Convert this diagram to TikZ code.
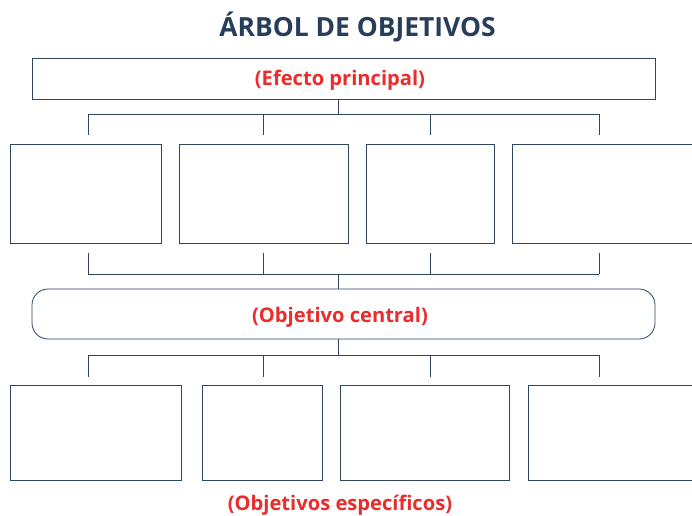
\documentclass[tikz,border=0pt]{standalone}
\usepackage{fontspec}
\setmainfont{Open Sans}
\definecolor{navy}{HTML}{263E5A}
\definecolor{linec}{HTML}{2F4560}
\definecolor{redt}{HTML}{EC2B2B}
\begin{document}
\begin{tikzpicture}[x=0.75pt,y=-0.75pt,
  boxs/.style={draw=linec,line width=0.6pt,fill=white,inner sep=0pt},
  redlbl/.style={text=redt,font=\bfseries\fontsize{15.1}{18}\selectfont},
  wire/.style={draw=linec,line width=0.6pt}]
\useasboundingbox (0,0) rectangle (692,515);
\node[font=\bfseries\fontsize{19.8}{23}\selectfont,text=navy] (title) at (357.5,27) {ÁRBOL DE OBJETIVOS};
% top box
\node[boxs,minimum width=467.25pt,minimum height=30.75pt] (top) at (343.5,78.5) {};
\node[redlbl] (eff) at (340,80) {(Efecto principal)};
% row 2
\node[boxs,minimum width=113.25pt,minimum height=74.25pt] (b1) at (85.5,193.5) {};
\node[boxs,minimum width=126.75pt,minimum height=74.25pt] (b2) at (263.5,193.5) {};
\node[boxs,minimum width=96pt,minimum height=74.25pt] (b3) at (430,193.5) {};
\node[boxs,minimum width=141pt,minimum height=74.25pt] (b4) at (606,193.5) {};
% central
\node[boxs,rounded corners=12pt,minimum width=467.25pt,minimum height=37.5pt] (cen) at (343.5,314) {};
\node[redlbl] (obj) at (340,317.5) {(Objetivo central)};
% row 3
\node[boxs,minimum width=128.25pt,minimum height=71.25pt] (c1) at (95.5,432.5) {};
\node[boxs,minimum width=90pt,minimum height=71.25pt] (c2) at (262,432.5) {};
\node[boxs,minimum width=126.75pt,minimum height=71.25pt] (c3) at (424.5,432.5) {};
\node[boxs,minimum width=132pt,minimum height=71.25pt] (c4) at (616,432.5) {};
\node[redlbl] (esp) at (340,505.5) {(Objetivos específicos)};
% connectors top
\coordinate (t0) at (338,114);
\coordinate (t1) at (88,114); \coordinate (t2) at (263,114);
\coordinate (t3) at (430,114); \coordinate (t4) at (599,114);
\draw[wire] (top.south -| t0) -- (t0);
\draw[wire] (t1) -- (t4);
\foreach \i in {1,2,3,4} {\draw[wire] (t\i) -- ++(0,21);}
% connectors middle
\coordinate (m0) at (338,274);
\coordinate (m1) at (88,274); \coordinate (m2) at (263,274);
\coordinate (m3) at (430,274); \coordinate (m4) at (599,274);
\draw[wire] (m0) -- (cen.north -| m0);
\draw[wire] (m1) -- (m4);
\foreach \i in {1,2,3,4} {\draw[wire] (m\i) -- ++(0,-21);}
% connectors bottom
\coordinate (d0) at (338,355);
\coordinate (d1) at (88,355); \coordinate (d2) at (263,355);
\coordinate (d3) at (430,355); \coordinate (d4) at (599,355);
\draw[wire] (cen.south -| d0) -- (d0);
\draw[wire] (d1) -- (d4);
\foreach \i in {1,2,3,4} {\draw[wire] (d\i) -- ++(0,22);}
\end{tikzpicture}
\end{document}
